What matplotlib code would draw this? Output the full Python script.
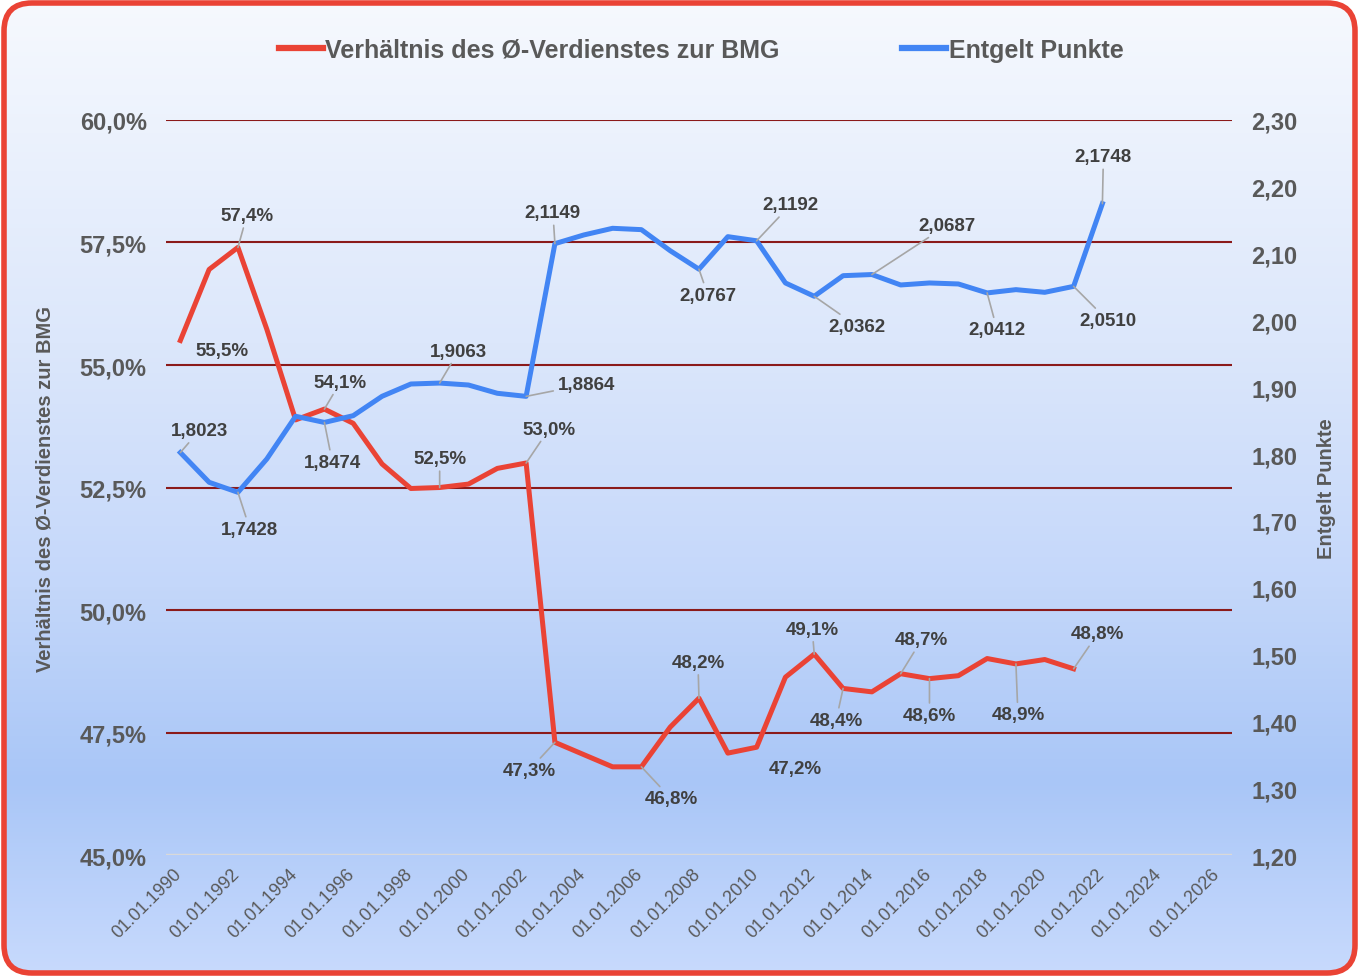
import numpy as np
import matplotlib.pyplot as plt
import matplotlib.dates as mdates
import matplotlib.transforms as mtransforms
from matplotlib.patches import FancyBboxPatch
from matplotlib.colors import LinearSegmentedColormap
from matplotlib.lines import Line2D
from datetime import datetime

plt.rcParams['font.family'] = ['Liberation Sans', 'DejaVu Sans']

# --------------------------------------------
# Daten
# --------------------------------------------
jahre_verh = list(range(1990, 2022))
verhaeltnis = [55.5, 56.95, 57.4, 55.73, 53.88, 54.1, 53.81, 52.98, 52.48, 52.5,
               52.57, 52.89, 53.0, 47.3, 47.05, 46.8, 46.8, 47.61, 48.2, 47.08,
               47.2, 48.63, 49.1, 48.4, 48.33, 48.7, 48.6, 48.66, 49.01, 48.9,
               48.99, 48.8]

jahre_ep = list(range(1990, 2023))
entgeltpunkte = [1.8023, 1.7578, 1.7428, 1.7927, 1.8566, 1.8474, 1.8575, 1.8865,
                 1.9049, 1.9063, 1.9034, 1.8910, 1.8864, 2.1149, 2.1279, 2.1379,
                 2.1359, 2.1044, 2.0767, 2.1254, 2.1192, 2.0561, 2.0362, 2.0670,
                 2.0687, 2.0531, 2.0561, 2.0546, 2.0412, 2.0461, 2.0421, 2.0510,
                 2.1748]

links_ticks = [45.0, 47.5, 50.0, 52.5, 55.0, 57.5, 60.0]
rechts_ticks = [1.20, 1.30, 1.40, 1.50, 1.60, 1.70, 1.80, 1.90, 2.00, 2.10, 2.20, 2.30]
x_tick_jahre = list(range(1990, 2027, 2))

# beschriftete Punkte: Jahr -> (dx, dy) in Pixel, Linie ja/nein
labels_verh = {1990: (42, -10, False), 1992: (9, 32, True), 1995: (16, 27, True),
               1999: (0, 29, True), 2002: (23, 34, True), 2003: (-26, -28, True),
               2006: (30, -32, True), 2008: (-1, 36, True), 2010: (39, -21, False),
               2012: (-2, 25, True), 2013: (-7, -32, True), 2015: (21, 34, True),
               2016: (0, -37, True), 2019: (2, -51, True), 2021: (24, 35, True)}
labels_ep = {1990: (19, 22, True), 1992: (12, -37, True), 1995: (8, -40, True),
             1999: (19, 32, True), 2002: (60, 12, True), 2003: (-2, 31, True),
             2008: (9, -26, True), 2010: (34, 36, True), 2012: (43, -30, True),
             2014: (75, 49, True), 2018: (10, -37, True), 2021: (34, -34, True),
             2022: (1, 47, True)}

ROT = "#ea4335"
BLAU = "#4285f4"
GRAU = "#595959"
DUNKEL = "#404040"

fig = plt.figure(figsize=(13.59, 9.78), dpi=100)
fig.patch.set_facecolor("white")

# --------------------------------------------
# Hintergrund mit Verlauf und rotem Rahmen
# --------------------------------------------
bg = fig.add_axes([0, 0, 1, 1], zorder=-10)
bg.set_xlim(0, 1)
bg.set_ylim(0, 1)
bg.axis("off")
cmap = LinearSegmentedColormap.from_list(
    "bg", [(0.0, "#f6f9fe"), (0.35, "#dce7fb"), (0.6, "#c4d7fa"),
           (0.8, "#a9c6f7"), (1.0, "#c8dafd")])
grad = np.linspace(0, 1, 256).reshape(-1, 1)
img = bg.imshow(grad, cmap=cmap, aspect="auto", extent=[0, 1, 0, 1], origin="upper")
rahmen = FancyBboxPatch((0.04, 0.04), 13.51, 9.70,
                        boxstyle="round,pad=0,rounding_size=0.28",
                        transform=fig.dpi_scale_trans, facecolor="none",
                        edgecolor=ROT, linewidth=4)
bg.add_patch(rahmen)
img.set_clip_path(rahmen)

# --------------------------------------------
# Achsen
# --------------------------------------------
ax = fig.add_axes([0.1222, 0.1247, 0.7843, 0.7516])
ax2 = ax.twinx()
for a in (ax, ax2):
    a.patch.set_visible(False)
    for s in a.spines.values():
        s.set_visible(False)

d_verh = [datetime(j, 1, 1) for j in jahre_verh]
d_ep = [datetime(j, 1, 1) for j in jahre_ep]

ax.plot(d_verh, verhaeltnis, color=ROT, lw=3.6, solid_joinstyle="round", zorder=3)
ax2.plot(d_ep, entgeltpunkte, color=BLAU, lw=3.6, solid_joinstyle="round", zorder=3)

ax.set_xlim(datetime(1989, 7, 4), datetime(2026, 7, 1))
ax.set_ylim(45, 60)
ax2.set_ylim(1.2, 2.3)

ax.set_yticks(links_ticks)
ax.set_yticklabels([f"{t:.1f}%".replace(".", ",") for t in links_ticks])
ax2.set_yticks(rechts_ticks)
ax2.set_yticklabels([f"{t:.2f}".replace(".", ",") for t in rechts_ticks])
ax.set_xticks([datetime(j, 1, 1) for j in x_tick_jahre])
ax.xaxis.set_major_formatter(mdates.DateFormatter("%d.%m.%Y"))

ax.tick_params(axis="y", length=0, pad=14, labelsize=17, labelcolor=GRAU)
ax2.tick_params(axis="y", length=0, pad=14, labelsize=17, labelcolor=GRAU)
for t in ax.get_yticklabels() + ax2.get_yticklabels():
    t.set_fontweight("bold")
ax.tick_params(axis="x", length=0, pad=7, labelsize=13, labelcolor=GRAU)
shift = mtransforms.ScaledTranslation(-7 / 100, 0, fig.dpi_scale_trans)
for t in ax.get_xticklabels():
    t.set_rotation(45)
    t.set_ha("right")
    t.set_rotation_mode("anchor")
    t.set_transform(t.get_transform() + shift)

ax.yaxis.grid(True, color="#8b1a1a", lw=1.5)
ax.get_ygridlines()[0].set_color("#d9d9d9")
ax.get_ygridlines()[0].set_linewidth(2.5)
ax.set_axisbelow(True)

ax.set_ylabel("Verhältnis des Ø-Verdienstes zur BMG", fontsize=14.5,
              fontweight="bold", color=GRAU, labelpad=18)
ax2.set_ylabel("Entgelt Punkte", fontsize=14.5, fontweight="bold", color=GRAU,
               rotation=90, labelpad=14)

# --------------------------------------------
# Datenbeschriftungen
# --------------------------------------------
def beschriften(achse, jahre, werte, labels, fmt):
    for j, w in zip(jahre, werte):
        if j not in labels:
            continue
        dx, dy, linie = labels[j]
        ap = dict(arrowstyle="-", color="#a6a6a6", lw=1.2, shrinkA=1, shrinkB=0) if linie else None
        achse.annotate(fmt(w), xy=(datetime(j, 1, 1), w), xytext=(dx, dy),
                       textcoords="offset pixels", ha="center", va="center",
                       fontsize=13.5, fontweight="bold", color=DUNKEL,
                       arrowprops=ap, zorder=5)

beschriften(ax, jahre_verh, verhaeltnis, labels_verh,
            lambda v: f"{v:.1f}%".replace(".", ","))
beschriften(ax2, jahre_ep, entgeltpunkte, labels_ep,
            lambda v: f"{v:.4f}".replace(".", ","))

# --------------------------------------------
# Legende
# --------------------------------------------
handles = [Line2D([], [], color=ROT, lw=4.5),
           Line2D([], [], color=BLAU, lw=4.5)]
leg = fig.legend(handles, ["Verhältnis des Ø-Verdienstes zur BMG", "Entgelt Punkte"],
                 loc="center", bbox_to_anchor=(0.516, 1 - 51 / 978), ncol=2,
                 frameon=False, handlelength=1.75, handletextpad=0.1,
                 columnspacing=4.9, prop={"size": 18, "weight": "bold"})
for t in leg.get_texts():
    t.set_color(GRAU)

fig.savefig("out.png", dpi=100)
